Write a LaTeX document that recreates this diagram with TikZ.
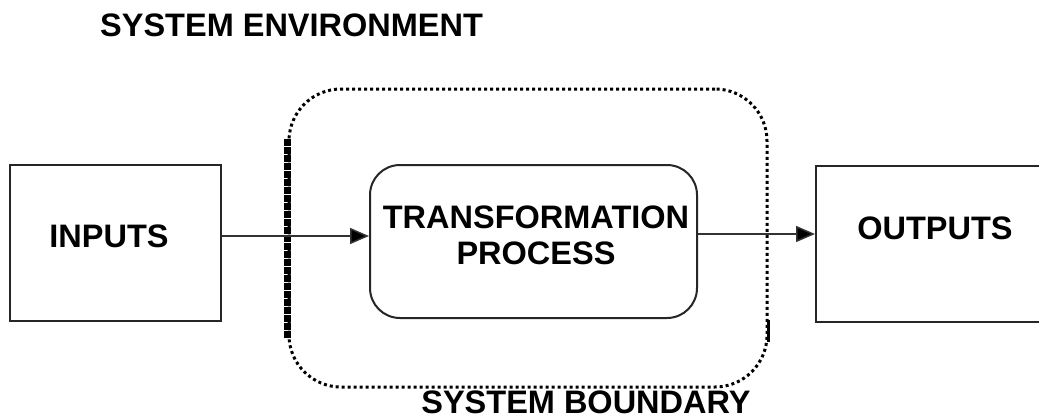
\documentclass[tikz,border=0pt]{standalone}
\usepackage{fontspec}
\setmainfont{Liberation Sans}
\usetikzlibrary{arrows.meta}
\tikzset{
  txt/.style={font=\fontsize{32.5}{37}\selectfont\bfseries, inner sep=0pt, align=center},
  box/.style={draw=black!85, line width=2pt, rectangle, inner sep=0pt},
  arr/.style={draw=black!80, line width=1.5pt, -{Triangle[length=19pt,width=16pt,fill=black]}},
  bound/.style={draw=black, line width=3pt, dash pattern=on 3pt off 3pt, rectangle, rounded corners=52pt, inner sep=0pt},
}
\begin{document}
\begin{tikzpicture}[x=1pt,y=-1pt]
\clip (0,0) rectangle (1039,418);
\fill[white] (0,0) rectangle (1039,418);
% boundary
\node[bound, minimum width=478pt, minimum height=298pt] (boundary) at (528,238) {};
\draw[line width=6.5pt, dash pattern=on 7pt off 1pt] ([yshift=-100pt]boundary.west) coordinate (bl1) -- ([yshift=99pt]boundary.west) coordinate (bl2);
\draw[line width=3pt] ([yshift=-82pt]boundary.east) coordinate (br1) -- ([yshift=-104pt]boundary.east) coordinate (br2);
% boxes
\node[box, minimum width=211pt, minimum height=156pt] (inputs) at (115.5,243) {};
\node[box, minimum width=240pt, minimum height=156pt, anchor=west] (outputs) at (815,244) {};
\node[box, rounded corners=30pt, minimum width=327pt, minimum height=153pt] (trans) at (533.5,241.5) {};
% texts
\node[txt] (tin) at (109,236) {INPUTS};
\node[txt] (tout) at (935,228) {OUTPUTS};
\node[txt] (ttr) at (536,235) {TRANSFORMATION\\[-1pt]PROCESS};
\node[txt, anchor=west] (env) at (100,25) {SYSTEM ENVIRONMENT};
\node[txt] (bnd) at (586,402) {SYSTEM BOUNDARY};
% arrows
\draw[arr] ([yshift=7pt]inputs.east) -- ([yshift=5.5pt]trans.west);
\draw[arr] ([yshift=7.5pt]trans.east) -- ([yshift=10pt]outputs.west);
\end{tikzpicture}
\end{document}
